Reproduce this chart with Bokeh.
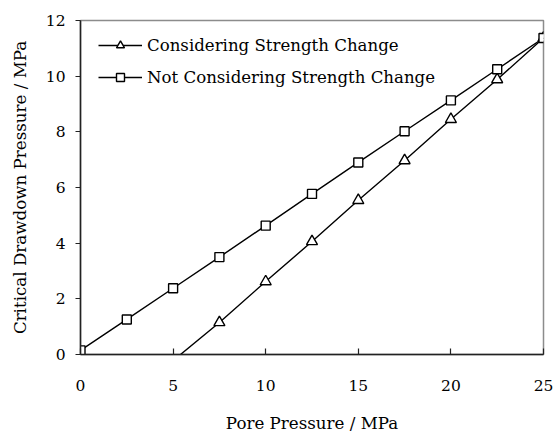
from bokeh.plotting import figure
from bokeh.models import Range1d, FixedTicker, Legend, LegendItem
from bokeh.embed import file_html
from bokeh.resources import INLINE

# ---- data ----
pore_all = [0, 2.5, 5, 7.5, 10, 12.5, 15, 17.5, 20, 22.5, 25]
not_considering = [0.15, 1.26, 2.38, 3.50, 4.63, 5.77, 6.90, 8.02, 9.13, 10.25, 11.37]
pore_cons = [5, 7.5, 10, 12.5, 15, 17.5, 20, 22.5, 25]
considering = [-0.22, 1.15, 2.62, 4.06, 5.54, 6.97, 8.45, 9.88, 11.37]
x_ticks = [0, 5, 10, 15, 20, 25]
y_ticks = [0, 2, 4, 6, 8, 10, 12]
label_cons = "Considering Strength Change"
label_not = "Not Considering Strength Change"
x_title = "Pore Pressure / MPa"
y_title = "Critical Drawdown Pressure / MPa"

FONT = "DejaVu Serif"

p = figure(width=558, height=435, output_backend="svg", toolbar_location=None,
           x_range=Range1d(0, 25), y_range=Range1d(0, 12),
           min_border_left=80, min_border_top=20, min_border_right=15, min_border_bottom=81)
p.frame_width = 463
p.frame_height = 334

p.grid.visible = False
p.outline_line_color = "#8c8c8c"
p.outline_line_width = 1.5
p.background_fill_color = "white"
p.border_fill_color = "white"

# axes
p.xaxis.ticker = FixedTicker(ticks=x_ticks)
p.yaxis.ticker = FixedTicker(ticks=y_ticks)
for ax in (p.xaxis[0], p.yaxis[0]):
    ax.axis_line_color = "#222222"
    ax.axis_line_width = 1.5
    ax.major_tick_line_color = "#222222"
    ax.major_tick_line_width = 1.2
    ax.minor_tick_line_color = None
    ax.major_label_text_font = FONT
    ax.major_label_text_font_size = "15.5px"
    ax.major_label_text_color = "black"
    ax.axis_label_text_font = FONT
    ax.axis_label_text_font_size = "16.7px"
    ax.axis_label_text_font_style = "normal"
    ax.axis_label_text_color = "black"

p.xaxis.major_tick_in = 6
p.xaxis.major_tick_out = 0
p.xaxis.major_label_standoff = 25
p.xaxis.axis_label = x_title
p.xaxis.axis_label_standoff = 19

p.yaxis.major_tick_in = 0
p.yaxis.major_tick_out = 5
p.yaxis.major_label_standoff = 10
p.yaxis.axis_label = y_title
p.yaxis.axis_label_standoff = 13

# series
l1 = p.line(pore_cons, considering, line_color="black", line_width=1.4)
m1 = p.scatter(pore_cons, considering, marker="triangle", size=11,
               fill_color="white", line_color="black", line_width=1.4)
l2 = p.line(pore_all, not_considering, line_color="black", line_width=1.4)
m2 = p.scatter(pore_all, not_considering, marker="square", size=9,
               fill_color="white", line_color="black", line_width=1.4)

legend = Legend(items=[LegendItem(label=label_cons, renderers=[l1, m1]),
                       LegendItem(label=label_not, renderers=[l2, m2])],
                location=(18, 267))
legend.padding = 0
legend.margin = 0
legend.spacing = 12
legend.glyph_width = 44
legend.glyph_height = 20
legend.label_height = 20
legend.label_standoff = 5
legend.label_text_font = FONT
legend.label_text_font_size = "16.6px"
legend.label_text_color = "black"
legend.border_line_color = None
legend.background_fill_alpha = 0
p.add_layout(legend, "center")

open("out.html", "w").write(file_html(p, INLINE))
